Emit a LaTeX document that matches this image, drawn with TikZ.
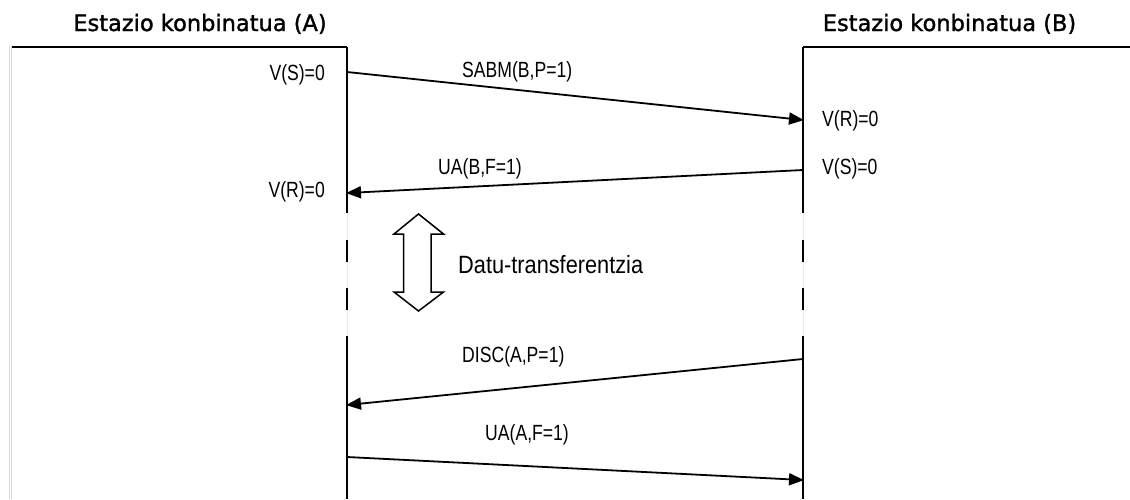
\documentclass[tikz,border=0pt]{standalone}
\usepackage{fontspec}
\setmainfont{Liberation Sans}
\newfontfamily\headfont[FakeBold=1.4]{DejaVu Sans}
\usetikzlibrary{arrows.meta}
\newcommand{\narrowtext}[2][0.8]{\scalebox{#1}[1]{#2}}
\begin{document}
\begin{tikzpicture}[x=1pt,y=-1pt,
  head/.style={font=\headfont\fontsize{22.5}{26}\selectfont, inner sep=0pt, anchor=base},
  lbl/.style={font=\fontsize{22}{26}\selectfont, inner sep=0pt},
  lifeline/.style={line width=2pt, dash pattern=on 166pt off 27pt on 22pt off 26pt on 22pt off 26pt on 200pt},
  ghost/.style={line width=0.6pt, gray!18},
  msg/.style={line width=1.8pt, -{Triangle[length=15pt,width=12pt]}, shorten >=-1pt},
  frame/.style={line width=1.6pt}]
\useasboundingbox (0,0) rectangle (1130,499);
\fill[white] (0,0) rectangle (1130,499);

% station headers
\node[head] (hA) at (200,31) {Estazio konbinatua (A)};
\node[head] (hB) at (949.5,31) {Estazio konbinatua (B)};

% faint left border
\draw[gray!30, line width=0.9pt] (9.5,46) -- (9.5,499);
\draw[gray!30, line width=0.9pt] (11.3,46) -- (11.3,499);

% lifeline end points
\coordinate (A0) at (347,47);
\coordinate (A1) at (347,499);
\coordinate (B0) at (803,47);
\coordinate (B1) at (803,499);
\coordinate (Ltop) at (12,47);
\coordinate (Rtop) at (1130,47);

\draw[frame] (Ltop) -- (A0);
\draw[frame] (B0) -- (Rtop);
\draw[ghost] (A0) -- (A1);
\draw[ghost] (B0) -- (B1);
\draw[lifeline] (A0) -- (A1);
\draw[lifeline] (B0) -- (B1);

% message end points
\coordinate (sabmS) at (347,72);
\coordinate (sabmE) at (803,120);
\coordinate (uabS) at (803,170);
\coordinate (uabE) at (347,193);
\coordinate (discS) at (803,359);
\coordinate (discE) at (347,405);
\coordinate (uaaS) at (347,457);
\coordinate (uaaE) at (803,480);

\draw[msg] (sabmS) -- (sabmE);
\draw[msg] (uabS) -- (uabE);
\draw[msg] (discS) -- (discE);
\draw[msg] (uaaS) -- (uaaE);

% message labels
\node[lbl, anchor=base west] (lsabm) at (462,77) {\narrowtext{SABM(B,P=1)}};
\node[lbl, anchor=base west] (luab) at (438,174) {\narrowtext{UA(B,F=1)}};
\node[lbl, anchor=base west] (ldisc) at (462,362) {\narrowtext{DISC(A,P=1)}};
\node[lbl, anchor=base west] (luaa) at (485,440) {\narrowtext{UA(A,F=1)}};

% state variables
\node[lbl, anchor=base east] (vsA) at (325,80) {\narrowtext{V(S)=0}};
\node[lbl, anchor=base east] (vrA) at (325,197) {\narrowtext{V(R)=0}};
\node[lbl, anchor=base west] (vrB) at (822,126) {\narrowtext{V(R)=0}};
\node[lbl, anchor=base west] (vsB) at (822,174) {\narrowtext{V(S)=0}};

% data transfer symbol
\draw[line width=1.5pt, line join=miter, fill=white]
  (418.5,214) -- (443.5,234) -- (431,234) -- (431,292) -- (443.5,292)
  -- (418.5,311) -- (394,292) -- (403.5,292) -- (403.5,234) -- (394,234) -- cycle;
\node[lbl, font=\fontsize{25}{30}\selectfont, anchor=base west] (dt) at (458,273)
  {\narrowtext[0.87]{Datu-transferentzia}};
\end{tikzpicture}
\end{document}
